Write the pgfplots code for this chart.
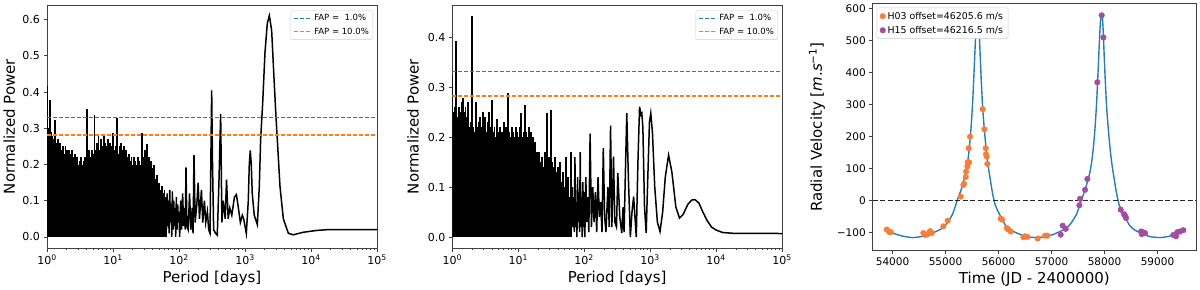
\documentclass[border=0pt]{standalone}
\usepackage{fontspec}
\setmainfont{DejaVu Sans}
\usepackage{pgfplots}
\usepackage{pgfplotstable}
\pgfplotsset{compat=1.18}
\definecolor{tabblue}{RGB}{36,126,190}
\definecolor{taborange}{HTML}{FF7F0E}
\definecolor{ptorange}{RGB}{250,125,55}
\definecolor{ptpurple}{RGB}{165,75,160}

% dense short-period part of both periodograms (a: left panel, b: middle panel)
\pgfplotstableread{
P a b
1.0000 0.418 0.325
1.0471 0.300 0.250
1.0965 0.379 0.260
1.1482 0.290 0.393
1.2023 0.280 0.240
1.2589 0.270 0.260
1.3183 0.324 0.250
1.3804 0.260 0.270
1.4454 0.270 0.278
1.5136 0.250 0.250
1.5849 0.260 0.260
1.6596 0.240 0.240
1.7378 0.250 0.270
1.8197 0.230 0.220
1.9055 0.250 0.230
1.9953 0.240 0.443
2.0893 0.220 0.220
2.1878 0.240 0.210
2.2909 0.230 0.270
2.3988 0.240 0.220
2.5119 0.220 0.230
2.6303 0.230 0.240
2.7542 0.210 0.220
2.8840 0.220 0.250
3.0200 0.200 0.230
3.1623 0.210 0.240
3.3113 0.220 0.210
3.4674 0.200 0.230
3.6308 0.210 0.250
3.8019 0.220 0.220
3.9811 0.352 0.275
4.1687 0.230 0.210
4.3652 0.240 0.220
4.5709 0.220 0.200
4.7863 0.240 0.237
5.0119 0.230 0.210
5.2481 0.338 0.220
5.4954 0.240 0.200
5.7544 0.260 0.210
6.0256 0.280 0.230
6.3096 0.240 0.200
6.6069 0.270 0.220
6.9183 0.250 0.289
7.2444 0.280 0.210
7.5858 0.260 0.200
7.9433 0.250 0.220
8.3176 0.270 0.210
8.7096 0.240 0.200
9.1201 0.260 0.220
9.5499 0.250 0.210
10.000 0.288 0.200
10.471 0.240 0.220
10.965 0.250 0.248
11.482 0.329 0.200
12.023 0.230 0.210
12.589 0.250 0.264
13.183 0.260 0.210
13.804 0.240 0.200
14.454 0.250 0.220
15.136 0.230 0.190
15.849 0.240 0.210
16.596 0.220 0.200
17.378 0.230 0.180
18.197 0.210 0.190
19.055 0.220 0.170
19.953 0.200 0.160
20.893 0.220 0.170
21.878 0.210 0.150
22.909 0.200 0.160
23.988 0.220 0.140
25.119 0.210 0.170
26.303 0.200 0.150
27.542 0.287 0.248
28.840 0.220 0.160
30.200 0.240 0.150
31.623 0.210 0.254
33.113 0.257 0.150
34.674 0.220 0.140
36.308 0.200 0.160
38.019 0.210 0.130
39.811 0.190 0.140
41.687 0.200 0.120
43.652 0.160 0.150
45.709 0.170 0.110
47.863 0.140 0.130
50.119 0.150 0.100
52.481 0.130 0.160
54.954 0.140 0.090
57.544 0.120 0.120
60.256 0.130 0.080
63.096 0.110 0.170
}\dense

\pgfplotstableread{
P y
64.6 0.02
66.1 0.12
67.6 0.03
69.2 0.10
70.8 0.01
72.4 0.13
74.1 0.04
75.9 0.09
77.6 0.00
79.4 0.126
81.3 0.02
83.2 0.10
85.1 0.03
87.1 0.08
89.1 0.00
91.2 0.11
93.3 0.02
95.5 0.09
97.7 0.04
100 0.07
102.3 0.00
105.9 0.10
109.6 0.02
113.5 0.12
117.5 0.03
121.6 0.08
124.5 0.02
127.6 0.192
131.8 0.03
138.0 0.02
144.5 0.12
151.4 0.02
158.5 0.08
163.3 0.01
168.7 0.226
175.8 0.04
186.2 0.09
195.0 0.15
204.2 0.05
218.8 0.13
229.1 0.04
242.7 0.10
254.1 0.04
269.2 0.07
281.8 0.02
295.1 0.01
303.4 0.20
312.6 0.405
322.1 0.20
335.0 0.02
358.9 0.01
380.2 0.005
402.7 0.15
427.6 0.34
446.7 0.04
467.7 0.10
501.2 0.05
524.8 0.158
555.9 0.05
588.8 0.08
631.0 0.06
691.8 0.11
741.3 0.117
794.3 0.08
851.1 0.04
912.0 0.06
955.0 0.05
1047 0.01
1122 0.10
1161 0.20
1202 0.239
1245 0.20
1288 0.12
1380 0.06
1538 0.034
1648 0.14
1726 0.27
1854 0.37
2009 0.51
2178 0.59
2339 0.611
2535 0.57
2748 0.44
2951 0.33
3199 0.22
3388 0.14
3811 0.05
4539 0.01
5395 0.006
7656 0.013
12190 0.018
17260 0.02
100000 0.02
}\lineA

\pgfplotstableread{
P y
64.6 0.03
66.1 0.10
67.6 0.02
69.2 0.08
70.8 0.01
72.4 0.16
74.1 0.02
75.9 0.07
77.6 0.00
79.4 0.12
81.3 0.03
83.2 0.09
85.1 0.01
87.1 0.17
89.1 0.02
91.2 0.08
93.3 0.00
95.5 0.11
97.7 0.02
100 0.09
102.3 0.00
105.9 0.12
109.6 0.03
113.5 0.08
117.5 0.01
123.0 0.207
128.8 0.02
134.9 0.10
141.3 0.03
147.9 0.09
154.9 0.01
162.2 0.12
169.8 0.04
177.8 0.07
186.2 0.01
195.0 0.178
204.2 0.04
213.8 0.01
229.1 0.10
239.9 0.02
251.2 0.223
263.0 0.02
278.6 0.161
291.7 0.03
309.0 0.02
323.6 0.128
346.7 0.04
371.5 0.008
389.0 0.06
402.7 0.01
421.7 0.13
442.6 0.248
467.7 0.12
501.2 0.0
530.9 0.05
562.3 0.081
595.7 0.03
616.6 0.0
653.1 0.15
691.8 0.261
724.4 0.245
748.2 0.248
776.2 0.22
822.2 0.06
871.0 0.008
922.6 0.12
977.2 0.23
1023 0.248
1084 0.21
1175 0.10
1288 0.03
1413 0.011
1549 0.05
1698 0.12
1905 0.164
2138 0.13
2455 0.06
2786 0.038
3162 0.045
3715 0.065
4266 0.074
4786 0.075
5495 0.068
6310 0.05
7244 0.034
8511 0.02
10000 0.014
12590 0.009
17780 0.0075
100000 0.007
}\lineB

\pgfplotstableread{
t rv
53890 -91
53940 -99
53965 -99
54582 -102
54613 -108
54657 -106
54708 -96
54739 -102
54959 -81
55041 -63
55286 12
55337 48
55349 52
55381 73
55387 90
55412 106
55418 119
55444 119
55437 163
55462 199
55701 285
55733 222
55758 163
55764 144
55777 137
55789 114
56041 -57
56066 -60
56154 -86
56186 -91
56230 -97
56469 -115
56500 -112
56544 -114
56739 -119
56878 -110
56922 -110
}\hzero

\pgfplotstableread{
t rv
57173 -107
57211 -79
57268 -89
57526 -15
57538 5
57633 33
57677 67
57865 369
57947 578
57979 509
58306 -29
58369 -43
58388 -48
58407 -55
58690 -97
58702 -105
58734 -100
58765 -102
59299 -108
59350 -112
59375 -99
59425 -97
59488 -93
}\hfifteen

\pgfplotstableread{
t rv
53890 -92
54022 -103
54179 -111
54368 -116
54506 -114
54663 -108
54821 -97
54947 -86
55041 -68
55135 -42
55217 -2
55292 32
55337 58
55381 85
55418 120
55450 165
55481 225
55513 310
55538 400
55563 495
55582 555
55594 575
55607 582
55620 575
55638 520
55657 440
55676 370
55701 290
55733 220
55764 165
55796 118
55840 70
55890 20
55934 -12
55984 -32
56047 -52
56142 -80
56236 -93
56362 -103
56519 -113
56708 -116
56846 -114
57003 -108
57161 -97
57287 -86
57381 -68
57475 -42
57557 -2
57632 32
57677 58
57721 85
57758 120
57790 165
57821 225
57853 310
57878 400
57903 495
57922 555
57934 575
57947 582
57960 575
57978 520
57997 440
58016 370
58041 290
58073 220
58104 165
58136 118
58180 70
58230 20
58274 -12
58324 -32
58387 -52
58482 -80
58576 -93
58702 -103
58859 -113
59048 -116
59186 -113
59343 -107
59501 -96
}\kep

\pgfplotsset{
  common/.style={
    scale only axis,
    axis line style={black!75, line width=0.9bp},
    tick align=outside,
    xtick pos=left, ytick pos=left,
    major tick length=3.5bp, minor tick length=2bp,
    tick style={black!75, line width=0.8bp},
    /pgf/number format/assume math mode=true,
    tick label style={font=\fontsize{11bp}{13bp}\selectfont, black},
    label style={font=\fontsize{15bp}{18bp}\selectfont, black},
  },
  pgram/.style={
    common,
    xmin=1, xmax=100000,
    xtick={1,10,100,1000,10000,100000},
    xticklabels={10\textsuperscript{0},10\textsuperscript{1},10\textsuperscript{2},10\textsuperscript{3},10\textsuperscript{4},10\textsuperscript{5}},
    minor xtick={2,3,4,5,6,7,8,9,20,30,40,50,60,70,80,90,200,300,400,500,600,700,800,900,2000,3000,4000,5000,6000,7000,8000,9000,20000,30000,40000,50000,60000,70000,80000,90000},
    xlabel={Period [days]}, ylabel={Normalized Power},
    legend style={font=\fontsize{8.5bp}{10bp}\selectfont, draw=black!20, rounded corners=1.5bp,
      inner xsep=2bp, inner ysep=2bp, row sep=1.5bp, legend cell align=left},
    legend image code/.code={\draw[#1] (0bp,0bp) -- (18bp,0bp);},
  },
}

\begin{document}
\begin{tikzpicture}
\useasboundingbox (0,0) rectangle (1200bp,290bp);

% ---------- left periodogram ----------
\begin{semilogxaxis}[pgram,
  at={(47bp,42bp)}, anchor=south west, width=330bp, height=243bp,
  ymin=-0.0305, ymax=0.6405,
  ytick={0,0.1,0.2,0.3,0.4,0.5,0.6},
  yticklabels={0.0,0.1,0.2,0.3,0.4,0.5,0.6},
  xlabel style={at={(axis description cs:0.5,-0.144)}, anchor=base},
  ylabel style={at={(axis description cs:-0.097,0.5)}, anchor=base},
  legend style={at={(0.988,0.978)}, anchor=north east},
]
\addplot[ycomb, black, line width=1.9bp, mark=none, forget plot] table[x=P, y=a] {\dense};
\addplot[black, line width=1.5bp, mark=none, forget plot] table[x=P, y=y] {\lineA};
\addplot[tabblue, line width=1.5bp, dash pattern=on 4bp off 2bp] coordinates {(1,0.33) (100000,0.33)};
\addlegendentry{FAP =\ \ 1.0\%}
\addplot[taborange, line width=1.5bp, dash pattern=on 4bp off 2bp] coordinates {(1,0.282) (100000,0.282)};
\addlegendentry{FAP = 10.0\%}
\end{semilogxaxis}

% ---------- middle periodogram ----------
\begin{semilogxaxis}[pgram,
  at={(452.3bp,42bp)}, anchor=south west, width=329.7bp, height=243bp,
  ymin=-0.022, ymax=0.4646,
  ytick={0,0.1,0.2,0.3,0.4},
  yticklabels={0.0,0.1,0.2,0.3,0.4},
  xlabel style={at={(axis description cs:0.5,-0.144)}, anchor=base},
  ylabel style={at={(axis description cs:-0.1025,0.5)}, anchor=base},
  legend style={at={(0.988,0.978)}, anchor=north east},
]
\addplot[ycomb, black, line width=1.9bp, mark=none, forget plot] table[x=P, y=b] {\dense};
\addplot[black, line width=1.5bp, mark=none, forget plot] table[x=P, y=y] {\lineB};
\addplot[tabblue, line width=1.5bp, dash pattern=on 4bp off 2bp] coordinates {(1,0.331) (100000,0.331)};
\addlegendentry{FAP =\ \ 1.0\%}
\addplot[taborange, line width=1.5bp, dash pattern=on 4bp off 2bp] coordinates {(1,0.282) (100000,0.282)};
\addlegendentry{FAP = 10.0\%}
\end{semilogxaxis}

% ---------- radial velocity ----------
\begin{axis}[common,
  at={(872.7bp,39.3bp)}, anchor=south west, width=323.3bp, height=247.2bp,
  xmin=53626, xmax=59727, ymin=-157, ymax=615,
  scaled x ticks=false, scaled y ticks=false,
  xtick={54000,55000,56000,57000,58000,59000},
  xticklabels={54000,55000,56000,57000,58000,59000},
  ytick={-100,0,100,200,300,400,500,600},
  yticklabels={−100,0,100,200,300,400,500,600},
  tick label style={font=\fontsize{10.5bp}{12bp}\selectfont, black},
  xlabel={Time (JD - 2400000)},
  ylabel={Radial Velocity [\textit{m}.\textit{s}\textsuperscript{−1}]},
  xlabel style={at={(axis description cs:0.5,-0.133)}, anchor=base},
  ylabel style={at={(axis description cs:-0.157,0.5)}, anchor=base},
  legend style={at={(0.0124,0.983)}, anchor=north west, font=\fontsize{9.4bp}{11bp}\selectfont,
    draw=black!20, rounded corners=1.5bp, inner xsep=3bp, inner ysep=2bp, row sep=1.5bp, legend cell align=left},
  legend image code/.code={\draw[#1, mark repeat=2, mark phase=2] plot coordinates {(0bp,0bp) (11bp,0bp) (20bp,0bp)};},
]
\addplot[tabblue, line width=1.4bp, mark=none, smooth, tension=0.4, forget plot] table[x=t, y=rv] {\kep};
\addplot[black!85, line width=1.5bp, dash pattern=on 5bp off 2.5bp, forget plot] coordinates {(53626,0) (59727,0)};
\addplot[only marks, mark=*, mark size=2.8bp, color=ptorange, mark options={draw=ptorange, fill=ptorange}] table[x=t, y=rv] {\hzero};
\addlegendentry{H03 offset=46205.6 m/s}
\addplot[only marks, mark=*, mark size=2.8bp, color=ptpurple, mark options={draw=ptpurple, fill=ptpurple}] table[x=t, y=rv] {\hfifteen};
\addlegendentry{H15 offset=46216.5 m/s}
\end{axis}
\end{tikzpicture}
\end{document}
